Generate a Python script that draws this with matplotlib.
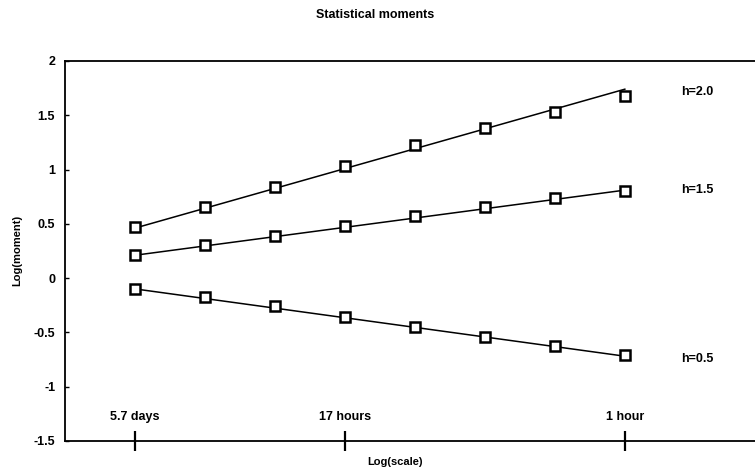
"""Statistical moments vs. log scale, three Hurst-type exponents."""

import matplotlib

matplotlib.use("Agg")

import matplotlib.pyplot as plt  # noqa: E402
import matplotlib.transforms as mtransforms  # noqa: E402

# scale steps (each a factor of two, 128 h down to 1 h)
scale_idx = [0, 1, 2, 3, 4, 5, 6, 7]
scale_ticks = [0, 3, 7]
scale_tick_labels = ["5.7 days", "17 hours", "1 hour"]

# measured log-moments
moment_h20 = [0.47, 0.65, 0.84, 1.03, 1.23, 1.38, 1.53, 1.68]
moment_h15 = [0.21, 0.30, 0.39, 0.48, 0.57, 0.65, 0.74, 0.80]
moment_h05 = [-0.10, -0.17, -0.26, -0.36, -0.45, -0.54, -0.63, -0.71]

# fitted lines (value at first and last scale)
fit_h20 = [0.46, 1.74]
fit_h15 = [0.21, 0.81]
fit_h05 = [-0.10, -0.72]

series_labels = ["h=2.0", "h=1.5", "h=0.5"]
label_y = [1.71, 0.81, -0.75]

y_ticks = [2, 1.5, 1, 0.5, 0, -0.5, -1, -1.5]
y_tick_labels = ["2", "1.5", "1", "0.5", "0", "-0.5", "-1", "-1.5"]

plt.rcParams["font.family"] = ["Liberation Sans", "DejaVu Sans"]
plt.rcParams["font.weight"] = "bold"
plt.rcParams["axes.unicode_minus"] = False

fig = plt.figure(figsize=(7.55, 4.69), dpi=100)
ax = fig.add_axes([0.086, 0.060, 0.914, 0.810])

for data, fit in ((moment_h20, fit_h20), (moment_h15, fit_h15), (moment_h05, fit_h05)):
    ax.plot([scale_idx[0], scale_idx[-1]], fit, color="black", lw=1.1, zorder=2)
    ax.plot(scale_idx, data, linestyle="none", marker="s", ms=6.5,
            mfc="white", mec="black", mew=1.8, zorder=3)

for text, y in zip(series_labels, label_y):
    ax.text(8.04, y, text, fontsize=9, fontweight="bold", ha="center", va="center")

ax.set_xlim(-1.0, 8.86)
ax.set_ylim(-1.5, 2)

ax.spines["right"].set_visible(False)
for s in ("left", "top", "bottom"):
    ax.spines[s].set_linewidth(1.3)

ax.set_yticks(y_ticks)
ax.set_yticklabels(y_tick_labels, fontsize=9, fontweight="bold")
ax.tick_params(axis="y", direction="in", length=3, width=1, pad=7)

ax.set_xticks(scale_ticks)
ax.set_xticklabels([])
ax.tick_params(axis="x", direction="inout", length=14, width=1.6)
trans = mtransforms.blended_transform_factory(ax.transData, ax.transAxes)
for x, lab in zip(scale_ticks, scale_tick_labels):
    ax.text(x, 0.048, lab, transform=trans, fontsize=9, fontweight="bold",
            ha="center", va="bottom")

ax.set_xlabel("Log(scale)", fontsize=8, fontweight="bold", labelpad=1, x=0.478)
ax.set_ylabel("Log(moment)", fontsize=8, fontweight="bold", labelpad=8)
fig.text(0.497, 0.967, "Statistical moments", fontsize=9, fontweight="bold",
         ha="center", va="center")

fig.savefig("out.png", dpi=100, facecolor="white")
